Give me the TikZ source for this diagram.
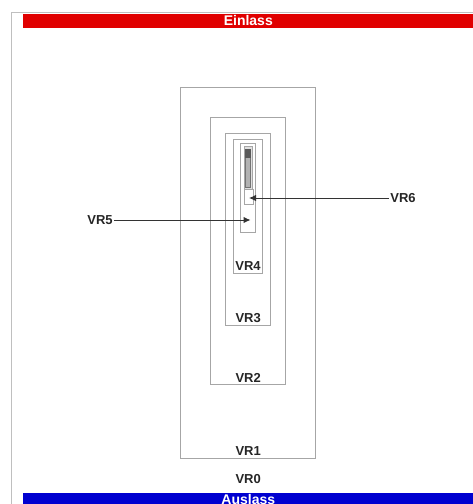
\documentclass[tikz,border=0pt]{standalone}
\usepackage{fontspec}
\setmainfont{Liberation Sans}
\usepackage{tikz}
\usetikzlibrary{arrows.meta, positioning}
\definecolor{inred}{RGB}{224,0,0}
\definecolor{outblue}{RGB}{0,0,208}
\tikzset{
  zone/.style = {draw=black!35, line width=1pt, inner sep=0pt},
  lbl/.style  = {font=\fontsize{13}{14}\selectfont\bfseries, inner sep=1pt, text=black!85},
  bar/.style  = {inner sep=0pt, minimum width=451pt, minimum height=13.5pt,
                 text height=9.5pt, text depth=0pt,
                 text=white, font=\fontsize{14}{14}\selectfont\bfseries},
  flow/.style = {-{Latex[length=7pt, width=6.5pt]}, line width=1pt, black!80},
}

\begin{document}
\begin{tikzpicture}[x=1pt, y=-1pt]
    \useasboundingbox[fill=white] (0,0) rectangle (473,504);
    \draw[black!25, line width=1pt] (11,504) -- (11,12.5) -- (473,12.5);

    \node[bar, fill=inred] (ein) at (248.3,20.8) {Einlass};
    \node[bar, fill=outblue] (aus) at (248.3,500) {Auslass};

    % nested zones
    \node[zone, minimum width=134.5pt, minimum height=371pt] (vr1) at (248.2,272.5) {};
    \node[zone, minimum width=74.5pt, minimum height=267pt] (vr2) at (248.2,250.5) {};
    \node[zone, minimum width=44.5pt, minimum height=192pt] (vr3) at (248.2,229) {};
    \node[zone, minimum width=29pt, minimum height=133.5pt] (vr4) at (248,206.3) {};
    \node[zone, minimum width=15.3pt, minimum height=89pt] (vr5) at (248.1,188) {};

    % tube
    \node[zone, fill=black!12, minimum width=8pt, minimum height=58pt] (tube) at (248,175) {};
    \node[draw=black!55, fill=black!30, inner sep=0pt, minimum width=5pt,
          minimum height=38pt] (core) at (248,168) {};
    \node[fill=black!65, inner sep=0pt, minimum width=6pt, minimum height=9pt] (cap) at (248,153) {};
    \node[zone, fill=white, minimum width=9pt, minimum height=15pt] (vr6) at (249,196.5) {};

    \node[lbl, anchor=south] at ([yshift=2pt]vr4.south) {VR4};
    \node[lbl, anchor=south] at ([yshift=2pt]vr3.south) {VR3};
    \node[lbl, anchor=south] at ([yshift=1pt]vr2.south) {VR2};
    \node[lbl, anchor=south] at ([yshift=2pt]vr1.south) {VR1};
    \node[lbl, below=15pt of vr1.south] {VR0};

    \node[lbl] (l5) at (100,220) {VR5};
    \node[lbl] (l6) at (403,198) {VR6};
    \coordinate (p5) at (250.5,220);
    \coordinate (p6) at (249,198);
    \draw[flow] (l5) -- (p5);
    \draw[flow] (l6) -- (p6);
\end{tikzpicture}
\end{document}
